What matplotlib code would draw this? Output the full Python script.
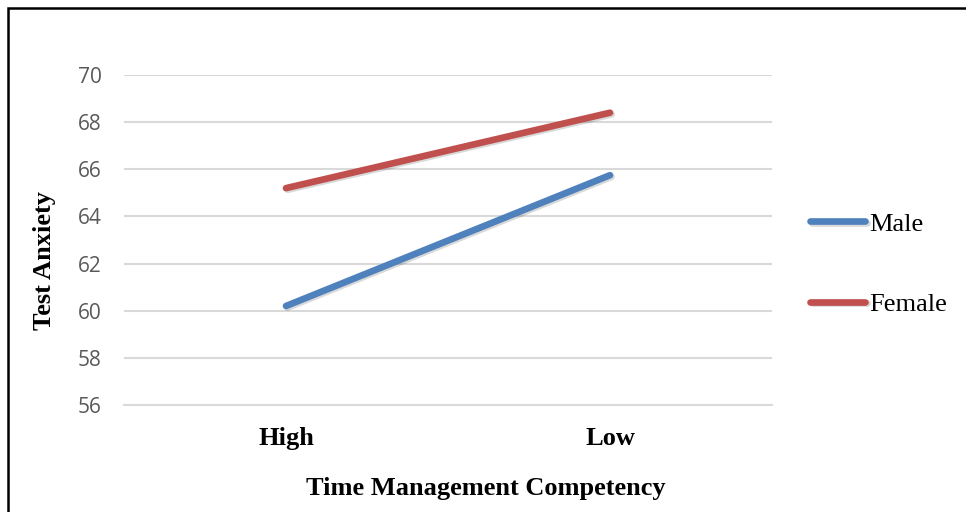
import matplotlib
matplotlib.use("Agg")
import matplotlib.pyplot as plt
import matplotlib.patheffects as pe
from matplotlib.patches import Rectangle

categories = ["High", "Low"]
male = [60.2, 65.75]
female = [65.2, 68.4]
yticks = [56, 58, 60, 62, 64, 66, 68, 70]

W, H = 966, 512
fig = plt.figure(figsize=(W / 100, H / 100), dpi=100)
ax = fig.add_axes([124 / W, 1 - 405 / H, (772 - 124) / W, (405 - 75) / H])

x = list(range(len(categories)))
shadow = [pe.SimpleLineShadow(offset=(1.2, -1.2), alpha=0.15, shadow_color="black"), pe.Normal()]
ax.plot(x, male, color="#4F81BD", lw=4.8, solid_capstyle="round", label="Male", path_effects=shadow, zorder=3)
ax.plot(x, female, color="#C0504D", lw=4.8, solid_capstyle="round", label="Female", path_effects=shadow, zorder=3)

ax.set_xlim(-0.5, len(categories) - 0.5)
ax.set_ylim(56, 70)
ax.set_yticks(yticks)
ax.set_yticklabels([str(v) for v in yticks], fontsize=15, color="#595959", family="Open Sans")
ax.set_xticks(x)
ax.set_xticklabels(categories, fontsize=19, fontweight="bold", family="Liberation Serif")
ax.tick_params(axis="both", length=0)
ax.tick_params(axis="y", pad=16)
ax.tick_params(axis="x", pad=16)
ax.grid(axis="y", color="#D9D9D9", lw=1.5)
ax.set_axisbelow(True)
for s in ["top", "right", "left"]:
    ax.spines[s].set_visible(False)
ax.spines["bottom"].set_color("#D9D9D9")
ax.spines["bottom"].set_linewidth(1.5)

ax.set_xlabel("Time Management Competency", fontsize=19, fontweight="bold", family="Liberation Serif")
ax.xaxis.set_label_coords((486 - 124) / (772 - 124), (405 - 489) / (405 - 75))
ax.xaxis.label.set_va("center")
ax.set_ylabel("Test Anxiety", fontsize=19, fontweight="bold", family="Liberation Serif")
ax.yaxis.set_label_coords((44 - 124) / (772 - 124), (405 - 260) / (405 - 75))
ax.yaxis.label.set_va("center")

leg = fig.legend(loc="center left", bbox_to_anchor=(810 / W, 1 - 264 / H), frameon=False,
                 prop={"family": "Liberation Serif", "size": 19}, handlelength=2.1, handletextpad=0.15,
                 labelspacing=2.15, borderaxespad=0, borderpad=0)

fig.patches.append(Rectangle((8 / W, -0.1), 1.2, 1 - 8 / H + 0.1, transform=fig.transFigure,
                             fill=False, edgecolor="black", lw=1.8, zorder=10))

fig.savefig("out.png", dpi=100)
